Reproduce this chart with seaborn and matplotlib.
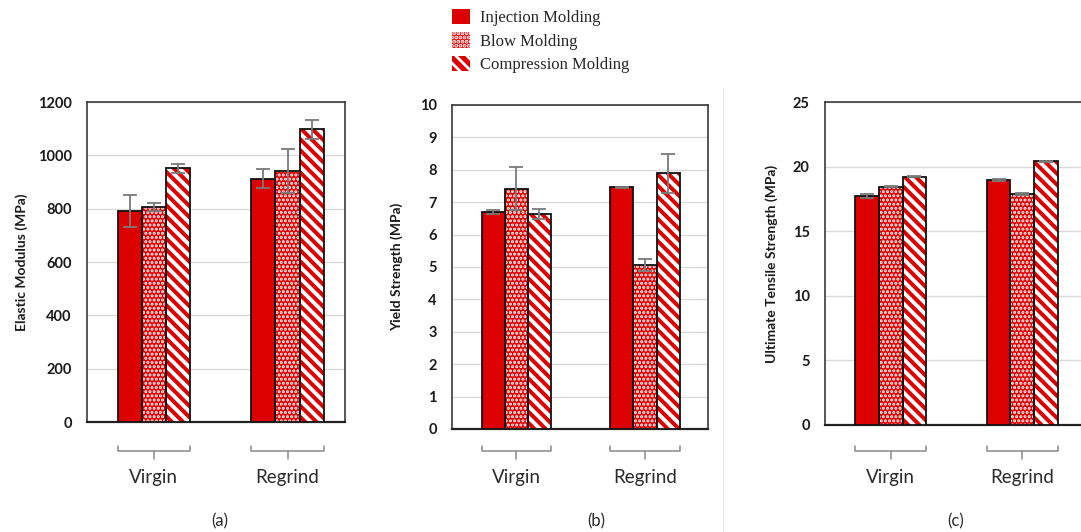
import numpy as np
import pandas as pd
import matplotlib
matplotlib.use("Agg")
import matplotlib.pyplot as plt
import matplotlib.transforms as mtransforms
from matplotlib.patches import Rectangle, Patch
from matplotlib.lines import Line2D
import seaborn as sns

# ---- data ----
groups = ["Virgin", "Regrind"]
methods = ["Injection Molding", "Blow Molding", "Compression Molding"]

modulus_mean = {"Injection Molding": [790, 913], "Blow Molding": [806, 942], "Compression Molding": [952, 1097]}
modulus_err = {"Injection Molding": [60, 35], "Blow Molding": [15, 82], "Compression Molding": [17, 37]}

yield_mean = {"Injection Molding": [6.70, 7.46], "Blow Molding": [7.42, 5.06], "Compression Molding": [6.64, 7.89]}
yield_err = {"Injection Molding": [0.05, 0.02], "Blow Molding": [0.66, 0.18], "Compression Molding": [0.15, 0.60]}

uts_mean = {"Injection Molding": [17.7, 18.96], "Blow Molding": [18.44, 17.88], "Compression Molding": [19.22, 20.40]}
uts_err = {"Injection Molding": [0.15, 0.05], "Blow Molding": [0.05, 0.05], "Compression Molding": [0.05, 0.05]}

panel_letters = ["(a)", "(b)", "(c)"]
y_labels = ["Elastic Modulus (MPa)", "Yield Strength (MPa)", "Ultimate Tensile Strength (MPa)"]
y_ticks = [np.arange(0, 1201, 200), np.arange(0, 11, 1), np.arange(0, 26, 5)]

RED = "#dc0000"
hatches = {"Injection Molding": None, "Blow Molding": "....", "Compression Molding": "\\\\\\"}
hatch_lw = {"Injection Molding": 1.0, "Blow Molding": 1.5, "Compression Molding": 2.8}

W, H = 1081, 532
sns.set_theme(style="white")
plt.rcParams["font.family"] = ["Lato", "DejaVu Sans"]
plt.rcParams["hatch.linewidth"] = 2.0

fig = plt.figure(figsize=(W / 100, H / 100), dpi=100)


def px_axes(left, right, top, bottom):
    return fig.add_axes([left / W, 1 - bottom / H, (right - left) / W, (bottom - top) / H])


def style_hatch(patch, m):
    patch.set_edgecolor("white")
    patch.set_hatch(hatches[m])
    patch.set_linewidth(0)
    if hasattr(patch, "set_hatch_linewidth"):
        patch.set_hatch_linewidth(hatch_lw[m])


panels = [
    dict(box=(87, 345, 102, 422), xlim=(-0.5, 1.43), mean=modulus_mean, err=modulus_err,
         ylab_x=22, letter_x=220),
    dict(box=(452, 708, 105, 429), xlim=(-0.5, 1.49), mean=yield_mean, err=yield_err,
         ylab_x=397, letter_x=596),
    dict(box=(825, 1088, 102, 425), xlim=(-0.5, 1.5), mean=uts_mean, err=uts_err,
         ylab_x=772, letter_x=956),
]

for i, p in enumerate(panels):
    ax = px_axes(*p["box"])
    rows = []
    for m in methods:
        for g, v in zip(groups, p["mean"][m]):
            rows.append({"group": g, "method": m, "value": v})
    df = pd.DataFrame(rows)
    sns.barplot(data=df, x="group", y="value", hue="method", hue_order=methods,
                order=groups, palette=[RED] * 3, width=0.54, errorbar=None,
                saturation=1, legend=False, ax=ax, zorder=3)

    for m, cont in zip(methods, ax.containers):
        xs, hs = [], []
        for bar in cont:
            xs.append(bar.get_x() + bar.get_width() / 2)
            hs.append(bar.get_height())
            if hatches[m]:
                style_hatch(bar, m)
            else:
                bar.set_linewidth(0)
            ax.add_patch(Rectangle((bar.get_x(), bar.get_y()), bar.get_width(), bar.get_height(),
                                   facecolor="none", edgecolor="#111111", linewidth=1.3, zorder=4))
        ax.errorbar(xs, hs, yerr=p["err"][m], fmt="none", ecolor="#7a7a7a",
                    elinewidth=1.3, capsize=5, capthick=1.3, zorder=5)

    ax.set_xlim(*p["xlim"])
    ax.set_ylim(y_ticks[i][0], y_ticks[i][-1])
    ax.set_yticks(y_ticks[i])
    ax.set_xticks([])
    ax.set_xlabel("")
    ax.set_ylabel("")
    ax.yaxis.grid(True, color="#d9d9d9", linewidth=1.0, zorder=0)
    ax.set_axisbelow(True)
    ax.tick_params(axis="y", length=0, pad=11, labelsize=10.5, labelcolor="#1a1a1a")
    for lab in ax.get_yticklabels():
        lab.set_fontweight("bold")
    for side in ["left", "right", "top"]:
        ax.spines[side].set_color("#3a3a3a")
        ax.spines[side].set_linewidth(1.2)
    ax.spines["bottom"].set_color("#222222")
    ax.spines["bottom"].set_linewidth(1.6)

    fig.text(p["ylab_x"] / W, 1 - (p["box"][2] + p["box"][3]) / 2 / H, y_labels[i],
             rotation=90, ha="center", va="center", fontsize=10, fontweight="bold",
             color="#1a1a1a")

    # group brackets and category names below the axis
    tr = mtransforms.blended_transform_factory(ax.transData, fig.transFigure)
    for gx, g in enumerate(groups):
        x0, x1 = gx - 0.27, gx + 0.27
        y_end, y_line, y_tick = 1 - 446 / H, 1 - 451 / H, 1 - 459 / H
        ax.add_line(Line2D([x0, x0, x1, x1], [y_end, y_line, y_line, y_end], transform=tr,
                           color="#8a8a8a", linewidth=1.1, clip_on=False))
        ax.add_line(Line2D([gx, gx], [y_line, y_tick], transform=tr,
                           color="#8a8a8a", linewidth=1.1, clip_on=False))
        ax.text(gx, 1 - 478 / H, g, transform=tr, ha="center", va="center",
                fontsize=13.5, color="#2a2a2a")

    fig.text(p["letter_x"] / W, 1 - 521 / H, panel_letters[i], ha="center", va="center",
             fontsize=12, color="#2a2a2a")

# faint panel separator
fig.add_artist(Line2D([723 / W, 723 / W], [0, 1 - 88 / H], transform=fig.transFigure,
                      color="#ececec", linewidth=1.0))

# legend
handles = []
for m in methods:
    if hatches[m]:
        h = Patch(facecolor=RED, linewidth=0)
        style_hatch(h, m)
        handles.append(h)
    else:
        handles.append(Patch(facecolor=RED, edgecolor=RED, linewidth=0))
fig.legend(handles, methods, loc="upper left", bbox_to_anchor=(452 / W, 1 - 9 / H),
           frameon=False, prop={"family": "Liberation Serif", "size": 12},
           handlelength=1.05, handleheight=1.05, handletextpad=0.65,
           labelspacing=0.35, borderpad=0, borderaxespad=0)

fig.savefig("out.png", dpi=100)
